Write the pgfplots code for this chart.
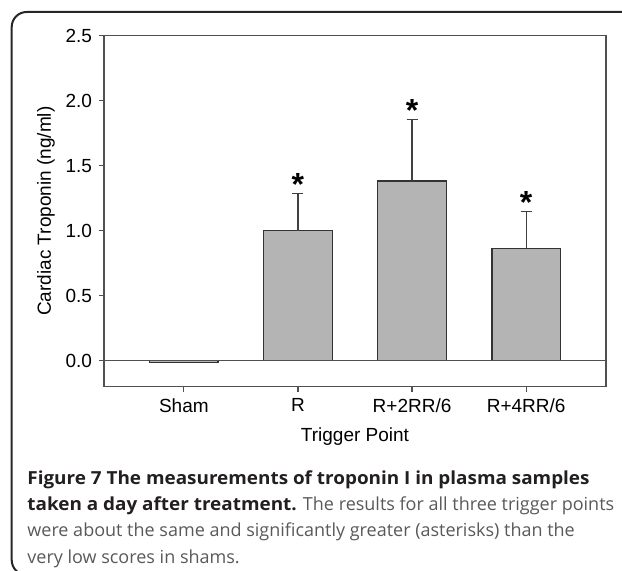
\documentclass[border=0pt]{standalone}
\usepackage{pgfplots}
\pgfplotsset{compat=1.18}
\usepackage{fontspec}
\setmainfont{Liberation Sans}
\newfontfamily\capfont[BoldFeatures={FakeStretch=1.05}]{Open Sans}
\definecolor{barfill}{HTML}{B4B4B4}
\definecolor{axisgray}{HTML}{505050}
\definecolor{captxt}{HTML}{58595B}
\definecolor{capbold}{HTML}{231F20}

% values: mean and upper error (SD)
\pgfplotstableread{
x  y      err
1  1.000  0.286
2  1.381  0.477
3  0.863  0.285
}\treated

\begin{document}
\begin{tikzpicture}
\useasboundingbox (0,0) rectangle (311pt,285.5pt);
% rounded frame, cut by the page edge on the right and bottom
\draw[line width=1pt, black!85, rounded corners=7.5pt] (5.85pt,-2pt) rectangle (340pt,279.5pt);

\begin{axis}[
    at={(52pt,92.15pt)}, anchor=south west,
    scale only axis, width=251pt, height=175.5pt,
    xmin=-0.7, xmax=3.7, ymin=-0.2, ymax=2.5,
    xtick={0,1,2,3},
    xticklabels={Sham,R,R+2RR/6,R+4RR/6},
    ytick={0,0.5,1,1.5,2,2.5},
    yticklabel style={/pgf/number format/.cd, fixed, fixed zerofill, precision=1},
    /pgf/number format/assume math mode=true,
    tick align=outside, xtick pos=bottom, ytick pos=left,
    major tick length=2.5pt,
    axis line style={axisgray, line width=0.6pt},
    tick style={axisgray, line width=0.6pt},
    ticklabel style={font=\fontsize{9.5}{11}\selectfont},
    label style={font=\fontsize{9.5}{11}\selectfont},
    xlabel={Trigger Point},
    ylabel={Cardiac Troponin (ng/ml)},
    xlabel style={at={(axis description cs:0.5,-0.1425)}, anchor=center},
    ylabel style={at={(axis description cs:-0.1155,0.5)}, anchor=center},
    clip=false,
]
% sham bar, just below zero
\addplot[ybar, bar width=34.25pt, bar shift=0pt, fill=barfill, draw=black!80, line width=0.7pt]
    coordinates {(0,-0.015)};
% treated groups with upper error bars
\addplot[ybar, bar width=34.25pt, bar shift=0pt, fill=barfill, draw=black!80, line width=0.7pt,
    error bars/.cd, y dir=plus, y explicit,
    error bar style={black!75, line width=0.6pt},
    error mark options={black!75, line width=0.6pt, mark size=2.75pt, rotate=90}]
    table[x=x, y=y, y error=err] {\treated};
% asterisks above the error bars
\addplot[draw=none, mark=none,
    nodes near coords={*},
    nodes near coords style={anchor=base, yshift=-1pt, inner sep=0pt,
        font=\fontsize{16}{16}\selectfont\bfseries, black}]
    coordinates {(1,1.286) (2,1.858) (3,1.148)};
\draw[axisgray, line width=0.6pt] (axis cs:-0.7,0) -- (axis cs:3.7,0);
\end{axis}

% caption
\begin{scope}[every node/.style={anchor=base west, inner sep=0pt,
        font=\capfont\fontsize{9}{11}\selectfont}]
\node[capbold] at (13.5pt,43pt) {\bfseries Figure 7 The measurements of troponin I in plasma samples};
\node[captxt] at (13.5pt,30pt) {\textcolor{capbold}{\bfseries taken a day after treatment.} The results for all three trigger points};
\node[captxt] at (13.5pt,17pt) {were about the same and significantly greater (asterisks) than the};
\node[captxt] at (13.5pt,3.5pt) {very low scores in shams.};
\end{scope}
\end{tikzpicture}
\end{document}
